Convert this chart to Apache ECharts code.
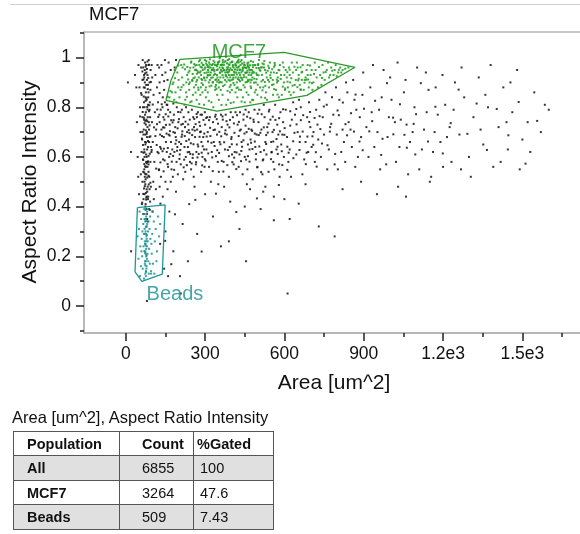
<!DOCTYPE html>
<html>
<head>
<meta charset="utf-8">
<script src="https://cdn.jsdelivr.net/npm/echarts@6/dist/echarts.min.js"></script>
<style>
  html, body { margin:0; padding:0; background:#fff; }
  #chart { position:absolute; left:0; top:0; width:580px; height:534px; }
  #tblTitle { position:absolute; left:12px; top:408px; font-family:"Liberation Sans", Arial, sans-serif; font-size:16.5px; color:#111; white-space:nowrap; }
  #tbl { position:absolute; left:13px; top:431px; border-collapse:collapse; font-family:"Liberation Sans", Arial, sans-serif; font-size:14.5px; color:#111; }
  #tbl td { border:1px solid #555; padding:0; height:23px; white-space:nowrap; }
  #tbl td.c1 { padding-left:13px; font-weight:bold; }
  #tbl td.c2 { padding-left:22px; }
  #tbl td.c3 { padding-left:6px; }
  #tbl tr.hdr td { font-weight:bold; }
  #tbl tr.hdr td.c3 { padding-left:3px; }
  #tbl tr.gray td { background:#e0e0e0; }
</style>
</head>
<body>
<div id="chart"></div>
<div id="tblTitle"></div>
<table id="tbl"></table>
<script>
// ---------- tick labels ----------
const xMajorTicks = [0, 300, 600, 900, 1200, 1500];
const xTickLabels = ['0', '300', '600', '900', '1.2e3', '1.5e3'];
const xMinorTicks = [150, 450, 750, 1050, 1350, 1650];
const yMajorTicks = [0, 0.2, 0.4, 0.6, 0.8, 1];
const yTickLabels = ['0', '0.2', '0.4', '0.6', '0.8', '1'];
const yMinorTicks = [-0.1, 0.1, 0.3, 0.5, 0.7, 0.9, 1.1];

// ---------- gates (Area, Aspect Ratio) ----------
const mcf7Gate = [[152,.828],[171,.908],[205,.993],[599,1.021],[867,.961],[685,.848],[345,.784],[152,.828]];
const beadsGate = [[44,.396],[149,.407],[138,.128],[61,.099],[35,.137],[44,.396]];
const gateLabels = [['MCF7', 428, 1.021], ['Beads', 186, .047]];

// ---------- events outside gates (All) ----------
const allEvents = [
[72,.95],[80,.91],[68,.88],[85,.84],[77,.97],[90,.79],[63,.76],[82,.72],[74,.69],[88,.66],
[70,.63],[79,.60],[86,.57],[66,.54],[75,.51],[83,.48],[71,.45],[92,.42],[78,.39],[69,.93],
[84,.89],[76,.86],[91,.82],[65,.80],[73,.77],[87,.74],[80,.70],[62,.67],[95,.64],[77,.61],
[83,.58],[70,.55],[89,.52],[74,.49],[81,.46],[67,.43],[86,.97],[78,.94],[72,.90],[93,.87],
[60,.85],[84,.81],[76,.78],[69,.75],[88,.71],[80,.68],[74,.65],[97,.62],[65,.59],[82,.56],
[78,.53],[71,.50],[90,.47],[85,.44],[75,.41],[68,.37],[81,.35],[100,.92],[105,.85],[58,.96],
[110,.78],[55,.70],[102,.66],[52,.88],[108,.58],[60,.62],[99,.74],[54,.80],[112,.93],[57,.53],
[104,.50],[50,.45],[115,.71],[48,.97],[118,.88],[45,.60],[98,.97],[64,.99],[87,.99],[73,.98],
[79,.83],[71,.80],[83,.76],[76,.73],[68,.71],[89,.68],[73,.66],[81,.63],[77,.58],[86,.54],
[72,.52],[79,.47],[84,.43],[74,.40],[80,.37],[66,.96],[94,.95],[70,.92],[82,.93],[77,.89],
[90,.90],[63,.91],[75,.84],[86,.86],[69,.82],[92,.76],[78,.75],[67,.69],[84,.64],[71,.60],
[93,.58],[76,.56],[63,.50],[95,.48],[79,.44],[88,.39],[83,.34],[61,.41],[106,.43],[40,.88],
[122,.82],[126,.96],[42,.74],[120,.62],[47,.52],[114,.47],[130,.69],[35,.93],[125,.55],[101,.38],
[67,.912],[83,.873],[75,.826],[88,.784],[71,.736],[79,.693],[65,.648],[86,.604],[73,.562],[81,.517],
[69,.473],[77,.428],[91,.387],[63,.944],[95,.902],[58,.857],[102,.811],[54,.763],[107,.719],[61,.674],
[98,.628],[84,.582],[70,.537],[93,.496],[76,.455],[62,.416],[88,.971],[74,.745],[81,.801],[66,.588],
[72,.879],[78,.836],[82,.791],[69,.758],[76,.707],[84,.664],[71,.619],[79,.574],[74,.531],[87,.489],
[66,.451],[80,.954],[73,.936],[85,.918],[68,.843],[90,.727],[63,.701],[77,.658],[91,.613],[70,.571],
[82,.984],[75,.963],[89,.808],[64,.781],[81,.744],[93,.683],[67,.617],[86,.524],[72,.482],[78,.436],
[135,.97],[150,.94],[128,.90],[162,.98],[145,.87],[170,.95],[140,.84],[158,.91],[132,.79],[145,.905],
[148,.99],[185,.96],[138,.93],[120,.97],[160,.79],[190,.99],[155,.81],[142,.76],[128,.74],[180,.815],
[8,.90],[20,.62],
[135,.71],[152,.66],[168,.78],[184,.62],[199,.74],[213,.69],[228,.80],[243,.58],[258,.72],[272,.65],
[288,.77],[141,.59],[157,.81],[173,.55],[189,.68],[204,.61],[219,.76],[235,.64],[250,.79],[265,.57],
[281,.70],[296,.63],[146,.75],[162,.69],[178,.52],[193,.80],[208,.57],[224,.72],[239,.67],[254,.61],
[269,.76],[285,.54],[300,.73],[130,.64],[150,.50],[166,.73],[182,.77],[197,.53],[212,.79],[227,.60],
[242,.75],[257,.52],[273,.78],[290,.60],[139,.80],[155,.62],[171,.66],[187,.72],[202,.66],[217,.51],
[232,.70],[247,.55],[262,.68],[278,.74],[293,.68],[144,.68],[160,.56],[176,.63],[192,.58],[207,.78],
[222,.64],[237,.78],[252,.71],[267,.62],[283,.77],[298,.56],[127,.77],[148,.82],[164,.60],[180,.70],
[195,.64],[210,.73],[225,.54],[240,.62],[255,.76],[270,.71],[286,.66],[299,.78],[133,.52],[158,.47],
[118,.732],[124,.615],[137,.684],[143,.542],[151,.772],[159,.636],[167,.704],[174,.581],[181,.748],[188,.653],
[196,.715],[203,.592],[211,.681],[219,.558],[226,.742],[234,.619],[241,.696],[249,.574],[256,.651],[264,.732],
[271,.598],[279,.681],[287,.617],[294,.749],[302,.585],[311,.662],[319,.717],[327,.598],[336,.644],[344,.752],
[112,.684],[119,.791],[126,.547],[133,.633],[141,.719],[147,.586],[154,.694],[161,.763],[169,.612],[177,.739],
[183,.548],[191,.667],[198,.781],[206,.628],[214,.703],[221,.589],[229,.664],[236,.731],[244,.612],[251,.688],
[259,.753],[266,.579],[274,.642],[281,.725],[289,.566],[297,.694],[304,.757],[312,.614],[320,.684],[329,.543],
[338,.762],[346,.627],[354,.701],[363,.584],[372,.659],[381,.744],[390,.603],[399,.672],[409,.735],[418,.551],
[427,.684],[437,.624],[446,.771],[455,.589],[465,.713],[474,.657],[484,.741],[493,.612],[503,.688],[512,.539],
[522,.719],[531,.652],[541,.783],[551,.618],[560,.709],[570,.672],[580,.756],[590,.623],[600,.689],[611,.548],
[622,.726],[633,.663],[645,.793],[657,.628],[669,.702],[681,.571],[694,.741],[706,.683],[719,.619],[733,.764],
[117,.648],[123,.761],[131,.578],[136,.812],[144,.633],[152,.729],[158,.571],[166,.686],[172,.748],[179,.604],
[186,.697],[194,.625],[201,.752],[209,.652],[216,.733],[223,.684],[231,.567],[238,.708],[246,.655],[253,.596],
[261,.706],[268,.773],[276,.612],[284,.702],[291,.643],[299,.591],[306,.682],[315,.748],[324,.657],[332,.708],
[341,.603],[349,.734],[358,.651],[366,.763],[375,.694],[384,.567],[392,.719],[401,.651],[410,.597],[421,.768],
[431,.706],[440,.641],[449,.694],[459,.762],[468,.581],[478,.705],[488,.662],[499,.774],[509,.697],[518,.586],
[537,.698],[556,.762],[574,.641],[595,.792],[616,.617],[638,.697],[662,.748],[687,.682],[714,.757],[742,.654],
[772,.702],[801,.787],[831,.732],[863,.702],[896,.627],[932,.744],[971,.673],[1011,.758],[1054,.689],[1098,.772],
[310,.70],[325,.62],[340,.77],[355,.66],[370,.58],[385,.73],[400,.68],[415,.78],[430,.61],[445,.75],
[460,.55],[475,.71],[490,.64],[505,.79],[520,.59],[535,.72],[550,.66],[565,.81],[580,.57],[595,.74],
[315,.56],[330,.74],[345,.69],[360,.77],[375,.63],[390,.52],[405,.76],[420,.65],[435,.71],[450,.60],
[465,.78],[480,.51],[495,.69],[510,.62],[525,.76],[540,.54],[555,.70],[570,.63],[585,.78],[598,.60],
[318,.76],[333,.66],[348,.58],[363,.72],[378,.77],[393,.64],[408,.57],[423,.73],[438,.66],[453,.79],
[468,.63],[483,.75],[498,.56],[513,.71],[528,.66],[543,.79],[558,.58],[573,.73],[588,.65],[305,.63],
[322,.50],[352,.54],[382,.69],[412,.62],[442,.53],[472,.67],[502,.74],[532,.61],[562,.55],[592,.69],
[337,.71],[367,.75],[397,.78],[427,.56],[457,.70],[487,.79],[517,.53],[547,.75],[577,.69],[372,.48],
[402,.61],[432,.78],[462,.65],[492,.59],[522,.81],[552,.62],[582,.52],[308,.76],[458,.49],[528,.48],
[353,.616],[361,.683],[369,.541],[377,.707],[386,.628],[394,.749],[403,.579],[411,.697],[419,.618],[428,.741],
[436,.583],[445,.667],[453,.726],[462,.603],[471,.756],[479,.632],[488,.694],[497,.558],[505,.642],[514,.772],
[523,.627],[531,.688],[540,.734],[549,.591],[558,.662],[566,.749],[575,.612],[583,.703],[592,.567],[601,.716],
[610,.68],[628,.75],[645,.61],[662,.80],[680,.66],[698,.72],[715,.58],[732,.83],[750,.69],[768,.63],
[785,.77],[802,.55],[820,.71],[838,.86],[855,.64],[872,.79],[890,.68],[615,.58],[633,.82],[650,.70],
[668,.53],[686,.76],[703,.64],[720,.79],[738,.60],[755,.86],[773,.72],[790,.57],[808,.83],[825,.66],
[843,.74],[860,.91],[878,.60],[895,.85],[620,.63],[640,.77],[658,.66],[675,.59],[693,.82],[710,.70],
[728,.67],[745,.76],[762,.55],[780,.84],[798,.69],[815,.62],[833,.90],[850,.71],[868,.56],[885,.76],
[605,.79],[625,.52],[655,.83],[690,.62],[725,.73],[760,.81],[795,.88],[830,.58],[865,.83],[898,.94],
[611,.641],[622,.784],[634,.595],[646,.731],[659,.682],[671,.768],[684,.617],[697,.781],[709,.649],[722,.561],
[736,.712],[749,.803],[763,.647],[777,.733],[792,.612],[806,.768],[821,.819],[837,.687],[852,.776],[869,.851],
[910,.72],[925,.88],[940,.64],[958,.79],[975,.95],[990,.68],[1005,.83],[1022,.58],[1040,.75],[1058,.91],
[1075,.66],[1092,.80],[1110,.55],[1128,.71],[1145,.87],[1162,.62],[1180,.77],[1198,.93],[1215,.68],[1232,.58],
[918,.60],[935,.97],[952,.70],[968,.84],[985,.57],[1000,.92],[1018,.74],[1035,.64],[1052,.86],[1068,.53],
[1085,.70],[1102,.96],[1120,.63],[1138,.78],[1155,.52],[1172,.88],[1190,.66],[1208,.81],[1225,.72],[1245,.90],
[930,.78],[962,.55],[995,.76],[1028,.98],[1062,.73],[1095,.61],[1135,.94],[1168,.70],[1200,.56],[1240,.79],
[884,.662],[901,.794],[921,.703],[943,.826],[966,.608],[988,.897],[1012,.691],[1037,.812],[1063,.637],[1089,.733],
[1116,.897],[1143,.662],[1171,.802],[1199,.614],[1229,.736],[1259,.871],[1292,.693],[1327,.815],[1366,.628],[1403,.793],
[1262,.69],[1280,.84],[1298,.60],[1315,.76],[1335,.92],[1352,.65],[1370,.80],[1390,.56],[1410,.72],[1428,.88],
[1445,.63],[1462,.78],[1480,.95],[1500,.67],[1520,.74],[1545,.86],[1570,.70],[1600,.79],[1270,.96],[1305,.52],
[1342,.71],[1380,.97],[1418,.58],[1455,.90],[1490,.55],[1530,.62],[1268,.55],[1360,.85],[1440,.74],[1585,.81],
[1447,.687],[1486,.821],[1512,.573],[1556,.745],[115,.553],[128,.857],[139,.623],[146,.718],
[140,.44],[165,.38],[190,.46],[215,.33],[240,.41],[270,.29],[300,.45],[330,.36],[360,.24],[395,.42],
[430,.31],[470,.47],[510,.39],[560,.44],[620,.35],[150,.30],[180,.22],[205,.12],[235,.18],[128,.48],
[170,.50],[260,.48],[350,.49],[450,.40],[520,.46],[600,.43],[455,.18],[390,.26],[80,.02],[208,.05],
[130,.25],[145,.15],[20,.22],[160,.12],[680,.49],[820,.47],[890,.50],[950,.45],[1030,.48],[612,.05],
[1060,.44],[1150,.50],[730,.32],[790,.28],[131,.412],[186,.369],[263,.427],[341,.452],[418,.378],[496,.433],
[579,.487],[654,.412],[287,.219],[149,.262],[172,.168],[560,.345]
];

// ---------- events in MCF7 gate ----------
const mcf7Events = [
[262,.95],[270,.91],[278,.97],[285,.93],[292,.89],[300,.96],[307,.92],[315,.98],[322,.94],[330,.90],
[337,.97],[345,.93],[352,.88],[360,.95],[367,.99],[375,.91],[382,.96],[390,.93],[397,.89],[405,.97],
[412,.94],[420,.90],[427,.98],[435,.92],[442,.95],[450,.88],[457,.96],[465,.93],[472,.90],[480,.97],
[265,.89],[273,.94],[281,.99],[288,.96],[296,.92],[303,.88],[311,.95],[318,.91],[326,.97],[333,.93],
[341,.89],[348,.98],[356,.94],[363,.90],[371,.97],[378,.93],[386,.99],[393,.95],[401,.91],[408,.96],
[416,.92],[423,.88],[431,.95],[438,.99],[446,.93],[453,.90],[461,.97],[468,.94],[476,.91],[268,.97],
[276,.92],[284,.88],[291,.95],[299,.99],[306,.94],[314,.90],[321,.96],[329,.92],[336,.98],[344,.95],
[351,.91],[359,.97],[366,.93],[374,.89],[381,.95],[389,.91],[396,.98],[404,.93],[411,.89],[419,.96],
[426,.92],[434,.97],[441,.91],[449,.96],[456,.92],[464,.98],[471,.95],[479,.92],[261,.92],[294,.97],
[319,.93],[339,.91],[358,.92],[372,.95],[387,.94],[402,.95],[418,.94],[432,.93],[448,.98],[462,.91],
[477,.95],[280,.94],[308,.97],[334,.95],[355,.96],[369,.92],[384,.92],[399,.93],[414,.97],[429,.91],
[444,.96],[459,.94],[474,.93],[327,.95],[362,.97],[392,.97],[422,.95],[452,.94],[310,.93],[347,.92],
[376,.94],[407,.92],[437,.94],[466,.96],[289,.91],[316,.96],[343,.97],[365,.96],[395,.92],[425,.96],
[253,.934],[267,.903],[283,.962],[297,.917],[304,.976],[313,.941],[324,.887],[331,.958],[342,.912],[349,.973],
[357,.902],[364,.944],[373,.981],[379,.926],[388,.961],[394,.907],[403,.984],[410,.931],[417,.968],[424,.913],
[433,.952],[440,.976],[447,.921],[455,.958],[463,.905],[470,.969],[478,.937],[486,.915],[494,.958],[502,.929],
[259,.974],[271,.947],[286,.914],[298,.938],[312,.965],[323,.919],[335,.944],[346,.903],[354,.985],[368,.957],
[383,.977],[391,.944],[406,.913],[413,.952],[421,.981],[428,.939],[439,.917],[451,.969],[460,.948],[469,.911],
[481,.961],[495,.913],[506,.951],[517,.976],[526,.902],[537,.947],[548,.918],[561,.963],[571,.938],[586,.914],
[597,.961],[611,.941],[626,.917],[638,.963],[652,.908],[667,.943],[683,.911],[697,.968],[712,.934],[731,.962],
[756,.942],[781,.947],[806,.951],[236,.912],[224,.953],[211,.881],[199,.968],[186,.917],[177,.893],[169,.865],
[158,.842],[231,.842],[249,.824],[278,.813],[314,.826],[362,.809],[397,.817],[438,.823],[482,.829],[527,.838],
[574,.851],[618,.862],[661,.872],[704,.897],[264,.859],[301,.869],[343,.874],[385,.866],[428,.871],[474,.877],
[517,.868],[561,.873],[603,.876],[649,.881],[690,.912],[742,.918],[355,.997],[391,.994],[427,.992],[318,.993],
[233,.962],[241,.947],[248,.984],[256,.917],[263,.968],[269,.935],[277,.985],[283,.944],[291,.971],[298,.953],
[305,.986],[312,.928],[318,.972],[325,.951],[332,.987],[338,.934],[345,.965],[351,.982],[357,.939],[364,.972],
[370,.948],[377,.986],[383,.941],[389,.973],[396,.957],[402,.982],[409,.943],[415,.976],[421,.932],[428,.964],
[434,.984],[441,.946],[447,.971],[454,.938],[460,.977],[467,.952],[473,.986],[480,.944],[487,.969],[494,.937],
[501,.974],[509,.947],[516,.961],[524,.986],[531,.939],[539,.967],[546,.929],[554,.953],[563,.978],[571,.911],
[239,.893],[252,.906],[274,.879],[287,.897],[301,.908],[317,.884],[328,.901],[339,.882],[353,.899],[368,.885],
[381,.903],[393,.882],[407,.898],[419,.877],[432,.905],[445,.889],[458,.902],[472,.884],[485,.899],[499,.891],
[513,.904],[528,.886],[543,.903],[559,.892],[576,.906],[594,.883],[612,.903],[631,.887],[654,.915],[676,.899],
[221,.972],[244,.959],[266,.951],[287,.979],[309,.961],[329,.974],[348,.952],[367,.981],[386,.953],[405,.964],
[424,.986],[443,.958],[462,.964],[482,.983],[503,.958],[522,.973],[542,.958],[581,.949],[620,.951],[661,.961],
[180,.90],[188,.86],[195,.94],[203,.84],[210,.97],[218,.89],[225,.83],[232,.93],[240,.87],[247,.98],
[254,.85],[185,.95],[192,.82],[200,.91],[207,.87],[215,.96],[222,.81],[229,.90],[237,.94],[244,.82],
[251,.91],[258,.88],[175,.86],[183,.83],[198,.88],[213,.92],[228,.86],[242,.90],[256,.96],[165,.84],
[268,.83],[282,.85],[296,.81],[310,.86],[324,.82],[338,.87],[352,.83],[366,.85],[380,.81],[394,.86],
[408,.82],[422,.84],[436,.87],[450,.82],[464,.85],[478,.83],[492,.87],[275,.87],[303,.84],[331,.80],
[359,.87],[387,.83],[415,.86],[443,.84],[471,.82],[498,.85],[290,.86],[346,.85],[401,.87],[457,.86],
[485,.94],[492,.90],[500,.97],[508,.88],[515,.93],[523,.96],[530,.86],[538,.91],[545,.98],[553,.89],
[560,.94],[568,.87],[575,.92],[583,.97],[590,.85],[598,.90],[605,.95],[613,.88],[620,.93],[628,.98],
[635,.86],[643,.91],[650,.96],[658,.89],[665,.94],[673,.87],[680,.92],[688,.97],[695,.90],[703,.95],
[488,.86],[496,.93],[504,.99],[512,.84],[519,.91],[527,.95],[534,.83],[542,.88],[549,.94],[557,.85],
[564,.97],[572,.90],[579,.84],[587,.93],[594,.98],[602,.87],[609,.92],[617,.96],[624,.85],[632,.94],
[639,.89],[647,.98],[654,.93],[662,.87],[669,.97],[677,.91],[684,.95],[692,.88],[699,.93],[490,.97],
[511,.96],[533,.92],[556,.91],[578,.95],[600,.93],[622,.90],[644,.95],[666,.91],[688,.93],[520,.88],
[710,.90],[718,.95],[727,.88],[735,.93],[744,.97],[752,.91],[760,.95],[769,.92],[777,.96],[786,.93],
[794,.97],[803,.94],[811,.96],[820,.95],[830,.955],[842,.96],[715,.98],[740,.89],[765,.98],[790,.95],
[706,.87],[722,.92],[748,.94],[773,.93],[798,.925],[815,.94]
];

// ---------- events in Beads gate ----------
const beadEvents = [
[74,.13],[78,.15],[72,.17],[80,.19],[75,.21],[77,.23],[73,.25],[79,.27],[76,.29],[71,.31],
[81,.33],[74,.35],[78,.37],[70,.39],[76,.14],[79,.16],[73,.18],[77,.20],[74,.22],[80,.24],
[72,.26],[78,.28],[75,.30],[79,.32],[73,.34],[77,.36],[81,.38],[76,.12],[70,.22],[83,.26],
[68,.29],[85,.18],[66,.33],[88,.23],[64,.15],[90,.31],[62,.20],[92,.36],[60,.27],[95,.14],
[58,.35],[98,.21],[55,.24],[100,.29],[52,.38],[103,.17],[50,.31],[106,.34],[48,.19],[110,.26],
[85,.39],[69,.11],[87,.13],[65,.37],[93,.27],[57,.16],[102,.38],[113,.31],[118,.22],[122,.36],
[126,.28],[116,.18],[108,.13],[130,.33],[45,.28],[54,.12],[96,.13],[84,.30],[71,.35],[82,.21],
[67,.24],[86,.34],[63,.30],[91,.17],[59,.22],[97,.25],[75,.25],[78,.32],[73,.29],[76,.18],
[77,.137],[74,.163],[79,.204],[75,.243],[78,.261],[76,.318],[80,.286],[73,.214],[77,.342],[75,.386]
];

// ---------- statistics table ----------
const tableTitle = 'Area [um^2], Aspect Ratio Intensity';
const tableHeader = ['Population', 'Count', '%Gated'];
const populations = ['All', 'MCF7', 'Beads'];
const counts = ['6855', '3264', '509'];
const gatedPct = ['100', '47.6', '7.43'];

// build table
document.getElementById('tblTitle').textContent = tableTitle;
const tbl = document.getElementById('tbl');
const colW = [92, 51, 76];
let html = '<tr class="hdr">' + tableHeader.map((h, i) =>
  `<td class="c${i+1}" style="width:${colW[i]}px">${h}</td>`).join('') + '</tr>';
populations.forEach((p, i) => {
  html += `<tr class="${i % 2 === 0 ? 'gray' : ''}"><td class="c1">${p}</td><td class="c2">${counts[i]}</td><td class="c3">${gatedPct[i]}</td></tr>`;
});
tbl.innerHTML = html;
const rows = tbl.querySelectorAll('tr');
[23, 24, 23, 24].forEach((h, i) => rows[i].querySelectorAll('td').forEach(td => td.style.height = h + 'px'));

// ---------- chart ----------
const FONT = '"Liberation Sans", Arial, sans-serif';
const chart = echarts.init(document.getElementById('chart'), null, { renderer: 'canvas' });
const GREEN = '#2a9a2a', TEAL = '#1e9696';
const lab = (ticks, labels) => v => { const i = ticks.indexOf(v); return i >= 0 ? labels[i] : ''; };
const tickStyle = { color: '#222', width: 1.5 };

chart.setOption({
  animation: false,
  backgroundColor: '#fff',
  grid: { left: 84, top: 32, right: 0, bottom: 201 },
  xAxis: [
    { type: 'value', min: -158, max: 1718, position: 'bottom',
      axisLine: { show: true, onZero: false, lineStyle: { color: '#a0a0a0', width: 1.5 } },
      axisTick: { show: true, customValues: xMajorTicks, length: 8, lineStyle: tickStyle },
      axisLabel: { customValues: xMajorTicks, formatter: lab(xMajorTicks, xTickLabels), margin: 12,
                   fontFamily: FONT, fontSize: 17.5, color: '#111' },
      splitLine: { show: false } },
    { type: 'value', min: -158, max: 1718, position: 'bottom',
      axisLine: { show: false, onZero: false },
      axisTick: { show: true, customValues: xMinorTicks, length: 4, lineStyle: tickStyle },
      axisLabel: { show: false }, splitLine: { show: false } },
    { type: 'value', min: -158, max: 1718, position: 'top',
      axisLine: { show: true, onZero: false, lineStyle: { color: '#b4b4b4', width: 1.5 } },
      axisTick: { show: false }, axisLabel: { show: false }, splitLine: { show: false } }
  ],
  yAxis: [
    { type: 'value', min: -0.109, max: 1.103, position: 'left',
      axisLine: { show: true, onZero: false, lineStyle: { color: '#a0a0a0', width: 1.5 } },
      axisTick: { show: true, customValues: yMajorTicks, length: 8, lineStyle: tickStyle },
      axisLabel: { customValues: yMajorTicks, formatter: lab(yMajorTicks, yTickLabels), margin: 13,
                   fontFamily: FONT, fontSize: 17.5, color: '#111' },
      splitLine: { show: false } },
    { type: 'value', min: -0.109, max: 1.103, position: 'left',
      axisLine: { show: false, onZero: false },
      axisTick: { show: true, customValues: yMinorTicks, length: 4, lineStyle: tickStyle },
      axisLabel: { show: false }, splitLine: { show: false } }
  ],
  series: [
    { type: 'scatter', name: 'All', data: allEvents, symbol: 'rect', symbolSize: 2,
      itemStyle: { color: '#111', opacity: 0.85 }, silent: true },
    { type: 'scatter', name: 'MCF7', data: mcf7Events, symbol: 'rect', symbolSize: 2,
      itemStyle: { color: '#169a16', opacity: 0.85 }, silent: true },
    { type: 'scatter', name: 'Beads', data: beadEvents, symbol: 'rect', symbolSize: 2,
      itemStyle: { color: '#158f8f', opacity: 0.85 }, silent: true },
    { type: 'line', data: mcf7Gate, symbol: 'none', lineStyle: { color: GREEN, width: 1.3 }, silent: true, z: 5 },
    { type: 'line', data: beadsGate, symbol: 'none', lineStyle: { color: TEAL, width: 1.3 }, silent: true, z: 5 },
    { type: 'scatter', symbolSize: 0, silent: true, z: 6, itemStyle: { color: 'transparent' },
      label: { show: true, position: 'inside', formatter: p => p.name, fontFamily: FONT, fontSize: 20 },
      data: [
        { value: [gateLabels[0][1], gateLabels[0][2]], name: gateLabels[0][0], label: { color: '#118f11' } },
        { value: [gateLabels[1][1], gateLabels[1][2]], name: gateLabels[1][0], label: { color: '#16908f' } }
      ] }
  ],
  graphic: [
    { type: 'line', shape: { x1: 10, y1: 4.5, x2: 580, y2: 4.5 }, style: { stroke: '#cfcfcf', lineWidth: 1 } },
    { type: 'text', left: 89, top: 5, style: { text: 'MCF7', font: '18.5px ' + FONT, fill: '#111' } },
    { type: 'text', x: 30, y: 182, rotation: Math.PI / 2,
      style: { text: 'Aspect Ratio Intensity', font: '21px ' + FONT, fill: '#111', align: 'center', verticalAlign: 'middle' } },
    { type: 'text', x: 334, y: 383,
      style: { text: 'Area [um^2]', font: '21px ' + FONT, fill: '#111', align: 'center', verticalAlign: 'middle' } }
  ]
});
</script>
</body>
</html>
